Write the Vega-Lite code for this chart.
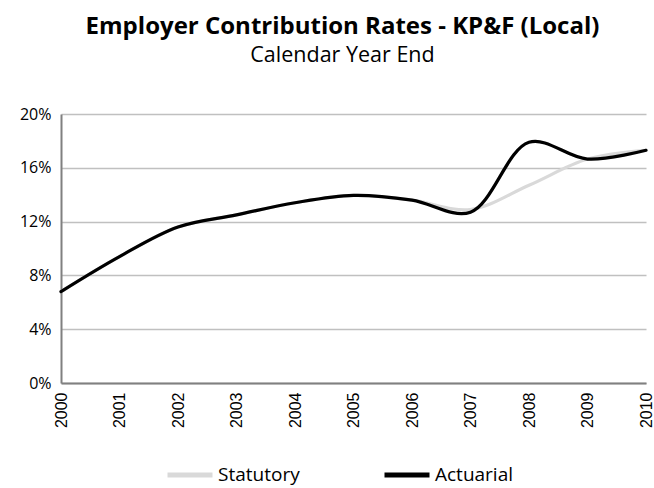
{
  "$schema": "https://vega.github.io/schema/vega-lite/v6.json",
  "width": 585,
  "height": 269,
  "autosize": "none",
  "padding": {"left": 61, "top": 114, "right": 8, "bottom": 105},
  "background": "white",
  "title": {
    "text": "Employer Contribution Rates - KP&F (Local)",
    "subtitle": "Calendar Year End",
    "anchor": "middle",
    "dx": -11,
    "font": "Open Sans",
    "fontSize": 24,
    "fontWeight": "bold",
    "color": "#000000",
    "subtitleFont": "Open Sans",
    "subtitleFontSize": 21.5,
    "subtitleColor": "#000000",
    "subtitlePadding": 6,
    "offset": 40
  },
  "data": {
    "values": [
      {"year": "2000", "series": "Statutory", "rate": 6.8},
      {"year": "2001", "series": "Statutory", "rate": 9.4},
      {"year": "2002", "series": "Statutory", "rate": 11.6},
      {"year": "2003", "series": "Statutory", "rate": 12.5},
      {"year": "2004", "series": "Statutory", "rate": 13.4},
      {"year": "2005", "series": "Statutory", "rate": 13.95},
      {"year": "2006", "series": "Statutory", "rate": 13.6},
      {"year": "2007", "series": "Statutory", "rate": 12.9},
      {"year": "2008", "series": "Statutory", "rate": 14.7},
      {"year": "2009", "series": "Statutory", "rate": 16.65},
      {"year": "2010", "series": "Statutory", "rate": 17.3},
      {"year": "2000", "series": "Actuarial", "rate": 6.8},
      {"year": "2001", "series": "Actuarial", "rate": 9.4},
      {"year": "2002", "series": "Actuarial", "rate": 11.6},
      {"year": "2003", "series": "Actuarial", "rate": 12.5},
      {"year": "2004", "series": "Actuarial", "rate": 13.4},
      {"year": "2005", "series": "Actuarial", "rate": 13.95},
      {"year": "2006", "series": "Actuarial", "rate": 13.6},
      {"year": "2007", "series": "Actuarial", "rate": 12.7},
      {"year": "2008", "series": "Actuarial", "rate": 17.9},
      {"year": "2009", "series": "Actuarial", "rate": 16.65},
      {"year": "2010", "series": "Actuarial", "rate": 17.3}
    ]
  },
  "mark": {"type": "line", "interpolate": "catmull-rom", "strokeWidth": 3.2, "strokeCap": "round"},
  "encoding": {
    "x": {
      "field": "year",
      "type": "ordinal",
      "scale": {"type": "point", "padding": 0},
      "axis": {
        "title": null,
        "labelAngle": -90,
        "labelFont": "Liberation Sans",
        "labelFontSize": 16,
        "labelColor": "#000000",
        "labelPadding": 9,
        "ticks": false,
        "domainColor": "#808080",
        "domainWidth": 2,
        "grid": false
      }
    },
    "y": {
      "field": "rate",
      "type": "quantitative",
      "scale": {"domain": [0, 20], "nice": false},
      "axis": {
        "title": null,
        "values": [0, 4, 8, 12, 16, 20],
        "labelExpr": "datum.value + '%'",
        "labelFont": "Open Sans",
        "labelFontSize": 16,
        "labelColor": "#000000",
        "labelPadding": 10,
        "ticks": false,
        "domainColor": "#808080",
        "domainWidth": 2,
        "grid": true,
        "gridColor": "#c0c0c0",
        "gridWidth": 1.5
      }
    },
    "color": {
      "field": "series",
      "type": "nominal",
      "sort": ["Statutory", "Actuarial"],
      "scale": {"domain": ["Statutory", "Actuarial"], "range": ["#d9d9d9", "#000000"]},
      "legend": {
        "title": null,
        "orient": "none",
        "legendX": 104,
        "legendY": 336,
        "direction": "horizontal",
        "symbolType": "stroke",
        "symbolSize": 2025,
        "symbolStrokeWidth": 5,
        "labelFont": "Open Sans",
        "labelFontSize": 19,
        "labelColor": "#000000",
        "labelOffset": 3,
        "columnPadding": 74
      }
    }
  },
  "config": {
    "view": {"stroke": null}
  }
}
